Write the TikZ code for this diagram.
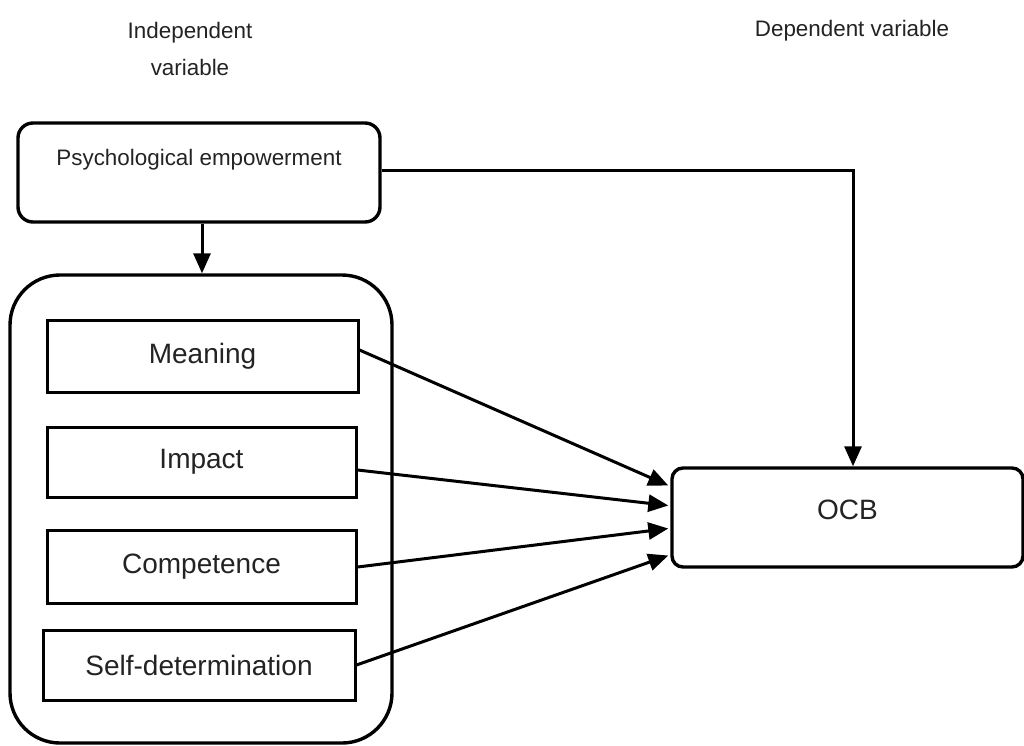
\documentclass[tikz,border=0pt]{standalone}
\usepackage{fontspec}
\setmainfont{Liberation Sans}
\usetikzlibrary{arrows.meta,calc}
\definecolor{txt}{RGB}{35,35,35}
\begin{document}
\begin{tikzpicture}[x=1pt,y=-1pt,
  small/.style={font=\fontsize{22.4}{37}\selectfont,text=txt,inner sep=0},
  big/.style={font=\fontsize{28}{32}\selectfont,text=txt,inner sep=0},
  rbox/.style={draw,line width=3.4pt,rounded corners=#1,inner sep=0},
  dimbox/.style={draw,line width=3pt,inner sep=0,font=\fontsize{28}{32}\selectfont,text=txt},
  conn/.style={line width=3pt,-{Triangle[length=20pt,width=17pt]}}]
\useasboundingbox (0,0) rectangle (1024,745);
% headings
\node[small,align=center] (indep) at (190,49) {Independent\\variable};
\node[small] (dep) at (852,31) {Dependent variable};
% psychological empowerment
\node[rbox=15pt,minimum width=362pt,minimum height=99pt] (pe) at (199,172.5) {};
\node[small] (pelabel) at (199,160) {Psychological empowerment};
% large container
\node[rbox=50pt,minimum width=382pt,minimum height=468pt] (dims) at (201,509) {};
% dimensions
\node[dimbox,minimum width=311pt,minimum height=72pt] (m) at (202.5,356) {Meaning};
\node[dimbox,minimum width=309pt,minimum height=70pt] (i) at (201.5,462) {Impact};
\node[dimbox,minimum width=309pt,minimum height=73pt] (c) at (201.5,566.5) {Competence};
\node[dimbox,minimum width=312pt,minimum height=70pt] (s) at (199,665) {Self-determination};
% OCB
\node[rbox=11pt,minimum width=351pt,minimum height=99pt,big,text depth=16pt] (ocb) at (847.5,517.5) {OCB};
% connectors
\draw[conn] ($(pe.south)+(3,0)$) -- ($(dims.north)+(1,0)$);
\draw[conn] ($(pe.east)+(0,-2.5)$) -| ($(ocb.north)+(5.5,0)$);
\draw[conn] ($(m.east)+(0,-6)$) -- ($(ocb.west)+(-2,-32)$);
\draw[conn] ($(i.east)+(0,8)$) -- ($(ocb.west)+(-2,-12)$);
\draw[conn] ($(c.east)+(0,0.5)$) -- ($(ocb.west)+(-2,11)$);
\draw[conn] ($(s.east)+(0,0)$) -- ($(ocb.west)+(-2,38)$);
\end{tikzpicture}
\end{document}
